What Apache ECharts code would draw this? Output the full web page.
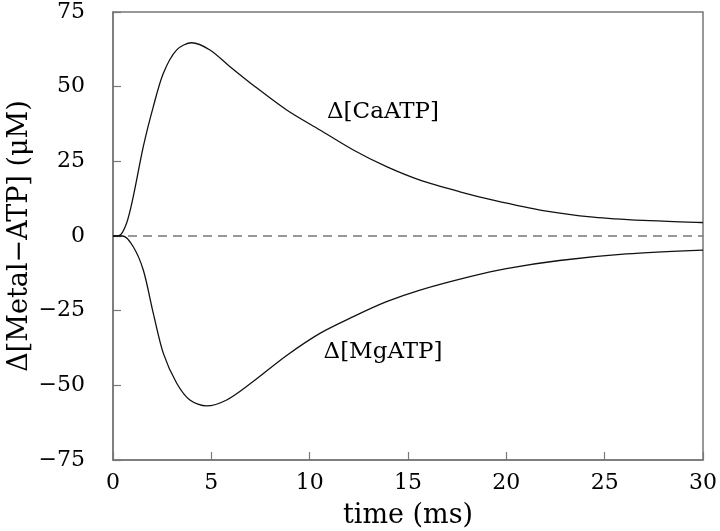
<!DOCTYPE html>
<html>
<head>
<meta charset="utf-8">
<script src="https://cdn.jsdelivr.net/npm/echarts@6/dist/echarts.min.js"></script>
<style>html,body{margin:0;padding:0;background:#fff}#c{width:720px;height:531px}</style>
</head>
<body>
<div id="c"></div>
<script>
// Data
var caTime   = [0, 0.3, 0.69, 1.03, 1.54, 2.05, 2.56, 3.24, 4.0, 4.93, 5.86, 7.13, 8.83, 10.52, 12.22, 13.91, 15.61, 17.64, 19.33, 21.87, 24.42, 26.96, 30];
var caValues = [0, 0.1, 4.3, 13.2, 29.9, 43.3, 54.5, 62.3, 64.7, 62.3, 57.2, 50.5, 42.2, 35.5, 28.8, 23.2, 18.7, 14.8, 12.0, 8.5, 6.3, 5.2, 4.5];
var mgTime   = [0, 0.5, 1.03, 1.54, 2.05, 2.56, 3.24, 3.91, 4.76, 5.78, 6.97, 8.83, 10.52, 12.22, 13.91, 15.61, 18.15, 20.0, 22.7, 26.1, 30];
var mgValues = [0, 0, -3.6, -11.4, -25.9, -39.3, -49.3, -54.9, -56.9, -54.9, -49.5, -40.0, -32.6, -27.0, -22.0, -18.1, -13.6, -10.9, -8.2, -6.0, -4.7];
var zeroLine = [[0, 0], [30, 0]];
var labelCa = {text: 'Δ[CaATP]', x: 13.73, y: 41.5};
var labelMg = {text: 'Δ[MgATP]', x: 13.73, y: -38.8};

function pairs(xs, ys) { return xs.map(function (x, i) { return [x, ys[i]]; }); }

var font = 'DejaVu Serif';
var axisColor = '#777';
var chart = echarts.init(document.getElementById('c'), null, {renderer: 'canvas'});
chart.setOption({
  animation: false,
  backgroundColor: '#fff',
  grid: {left: 113, right: 17, top: 12, bottom: 71, show: true, borderColor: axisColor, borderWidth: 1.5,
         containLabel: false, outerBoundsMode: 'none'},
  xAxis: {
    type: 'value', min: 0, max: 30, interval: 5,
    name: 'time (ms)', nameLocation: 'middle', nameGap: 42, nameMoveOverlap: false,
    nameTextStyle: {fontFamily: font, fontSize: 27, color: '#000'},
    axisLine: {show: true, onZero: false, lineStyle: {color: axisColor, width: 1.5}},
    axisTick: {show: true, inside: true, length: 8, lineStyle: {color: axisColor, width: 1.2}},
    axisLabel: {fontFamily: font, fontSize: 22, color: '#000', margin: 12},
    splitLine: {show: false}
  },
  yAxis: {
    type: 'value', min: -75, max: 75, interval: 25,
    name: 'Δ[Metal−ATP] (μM)', nameLocation: 'middle', nameGap: 80, nameMoveOverlap: false,
    nameTextStyle: {fontFamily: font, fontSize: 27, color: '#000'},
    axisLine: {show: true, onZero: false, lineStyle: {color: axisColor, width: 1.5}},
    axisTick: {show: true, inside: true, length: 8, lineStyle: {color: axisColor, width: 1.2}},
    axisLabel: {fontFamily: font, fontSize: 22, color: '#000', margin: 28,
      formatter: function (v) { return String(v).replace('-', '−'); }},
    splitLine: {show: false}
  },
  series: [
    {type: 'line', data: zeroLine, symbol: 'none', silent: true,
     lineStyle: {color: '#777', width: 1.4, type: [9, 6]}},
    {type: 'line', data: pairs(caTime, caValues), symbol: 'none', smooth: 0.3,
     lineStyle: {color: '#111', width: 1.3},
     markPoint: {symbol: 'circle', symbolSize: 0, silent: true,
       data: [{coord: [labelCa.x, labelCa.y], value: labelCa.text}],
       label: {show: true, position: 'inside', formatter: labelCa.text, fontFamily: font, fontSize: 23, color: '#000'}}},
    {type: 'line', data: pairs(mgTime, mgValues), symbol: 'none', smooth: 0.3,
     lineStyle: {color: '#111', width: 1.3},
     markPoint: {symbol: 'circle', symbolSize: 0, silent: true,
       data: [{coord: [labelMg.x, labelMg.y], value: labelMg.text}],
       label: {show: true, position: 'inside', formatter: labelMg.text, fontFamily: font, fontSize: 23, color: '#000'}}}
  ]
});
</script>
</body>
</html>
